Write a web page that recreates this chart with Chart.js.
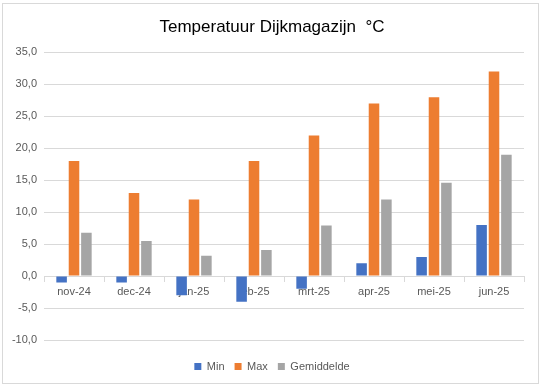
<!DOCTYPE html>
<html>
<head>
<meta charset="utf-8">
<script src="https://cdn.jsdelivr.net/npm/chart.js@4"></script>
<style>
  html, body { margin: 0; padding: 0; background: #fff; }
  #frame { position: absolute; left: 2px; top: 3px; width: 535px; height: 379px; border: 1px solid #d9d9d9; }
  #wrap { position: absolute; left: 0; top: 0; width: 544px; height: 388px; }
</style>
</head>
<body>
<div id="frame"></div>
<div id="wrap"><canvas id="chart"></canvas></div>
<script>
// maanden
const months = ['nov-24', 'dec-24', 'jan-25', 'feb-25', 'mrt-25', 'apr-25', 'mei-25', 'jun-25'];
const minTemp = [-1, -1, -3, -4, -2, 2, 3, 8];
const maxTemp = [18, 13, 12, 18, 22, 27, 28, 32];
const avgTemp = [6.8, 5.5, 3.2, 4.1, 7.9, 12, 14.6, 19];

const font = 'Liberation Sans, Arial, sans-serif';

const ctx = document.getElementById('chart').getContext('2d');
new Chart(ctx, {
    type: 'bar',
    data: {
        labels: months,
        datasets: [
            { label: 'Min', data: minTemp, backgroundColor: '#4472c4' },
            { label: 'Max', data: maxTemp, backgroundColor: '#ed7d31' },
            { label: 'Gemiddelde', data: avgTemp, backgroundColor: '#a5a5a5' }
        ]
    },
    options: {
        responsive: true,
        maintainAspectRatio: false,
        animation: false,
        datasets: {
            bar: { categoryPercentage: 0.62, barPercentage: 0.85 }
        },
        layout: { padding: { left: 0, right: 0, top: 0, bottom: 6 } },
        plugins: {
            title: {
                display: true,
                text: 'Temperatuur Dijkmagazijn  °C',
                color: '#000',
                font: { family: font, size: 17, weight: 'normal' },
                padding: { top: 17, bottom: 15 }
            },
            legend: {
                position: 'bottom',
                title: { display: true, text: '', padding: 0, font: { size: 10, lineHeight: 1.1 } },
                labels: {
                    boxWidth: 7,
                    boxHeight: 7,
                    color: '#595959',
                    font: { family: font, size: 11 },
                    padding: 10
                }
            },
            tooltip: { enabled: false }
        },
        scales: {
            x: {
                position: { y: 0 },
                offset: true,
                grid: {
                    display: true,
                    drawOnChartArea: false,
                    drawTicks: true,
                    tickLength: 5,
                    offset: true,
                    color: '#d9d9d9'
                },
                border: { color: '#d9d9d9' },
                ticks: {
                    color: '#595959',
                    font: { family: font, size: 11 },
                    padding: 4
                }
            },
            y: {
                min: -10,
                max: 35,
                afterFit: s => { s.width = 44; },
                ticks: {
                    stepSize: 5,
                    color: '#595959',
                    font: { family: font, size: 11 },
                    padding: 7,
                    callback: v => v.toFixed(1).replace('.', ',')
                },
                grid: { color: '#d9d9d9', drawTicks: false },
                border: { display: false }
            },
            yRight: {
                position: 'right',
                display: true,
                afterFit: s => { s.width = 20; },
                ticks: { display: false },
                grid: { display: false },
                border: { display: false }
            }
        }
    }
});
</script>
</body>
</html>
